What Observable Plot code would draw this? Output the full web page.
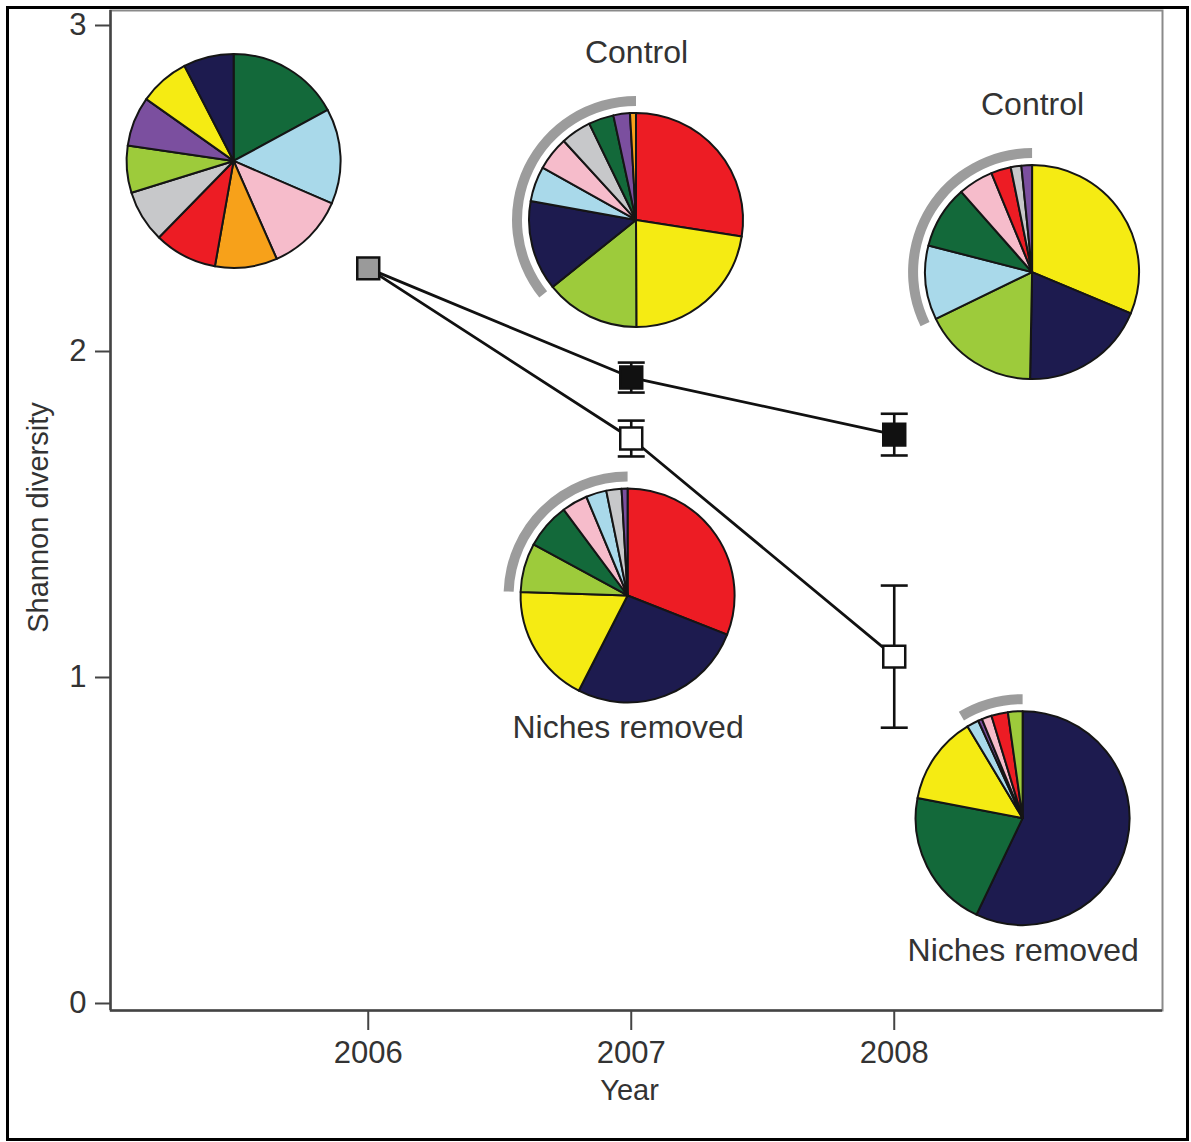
<!DOCTYPE html>
<html><head><meta charset="utf-8">
<script src="https://cdn.jsdelivr.net/npm/d3@7"></script>
<script src="https://cdn.jsdelivr.net/npm/@observablehq/plot@0.6"></script>
<style>
html,body{margin:0;padding:0;background:#fff;}
#wrap{position:relative;width:1191px;height:1142px;overflow:hidden;background:#fff;}
#wrap svg{display:block;position:absolute;left:0;top:0;}
#border{position:absolute;left:6px;top:6px;width:1177px;height:1129px;border:3px solid #000;pointer-events:none;}
</style></head>
<body><div id="wrap"><div id="border"></div></div>
<script>
// ---------- data ----------
const years = [2006, 2007, 2008];
const treatments = ["Control", "Niches removed"];
const startValue = 2.255;              // 2006, before treatment
const controlMean = [1.920, 1.745];    // 2007, 2008
const controlSE   = [0.046, 0.064];
const removedMean = [1.733, 1.064];
const removedSE   = [0.055, 0.218];
const xTicks = [2006, 2007, 2008];
const yTicks = [0, 1, 2, 3];

const speciesKeys = ["dark green", "light blue", "pink", "orange", "red", "grey", "yellow green", "purple", "yellow", "navy"];
const speciesColors = ["#13693a", "#a9d9ea", "#f6bccb", "#f7a11a", "#ed1c24", "#c7c8ca", "#9dcb3b", "#7b4f9f", "#f5eb13", "#1d1b4f"];

// community composition (% of sequences), clockwise from 12 o'clock
const sp2006 = ["dark green", "light blue", "pink", "orange", "red", "grey", "yellow green", "purple", "yellow", "navy"];
const share2006 = [17.1, 14.4, 11.9, 9.4, 9.5, 7.9, 7.1, 7.5, 7.6, 7.6];
const spControl2007 = ["red", "yellow", "yellow green", "navy", "light blue", "pink", "grey", "dark green", "purple", "orange"];
const shareControl2007 = [27.5, 22.5, 14.3, 13.6, 5.3, 5.1, 4.6, 3.8, 2.5, 0.9];
const spControl2008 = ["yellow", "navy", "yellow green", "light blue", "dark green", "pink", "red", "grey", "purple"];
const shareControl2008 = [31.3, 19.0, 17.5, 11.2, 9.5, 5.3, 3.0, 1.6, 1.6];
const spRemoved2007 = ["red", "navy", "yellow", "yellow green", "dark green", "pink", "light blue", "grey", "purple"];
const shareRemoved2007 = [31.0, 26.6, 18.0, 7.4, 6.9, 3.9, 3.1, 2.3, 0.9];
const spRemoved2008 = ["navy", "dark green", "yellow", "light blue", "purple", "pink", "red", "yellow green"];
const shareRemoved2008 = [57.1, 20.9, 13.4, 1.8, 0.6, 1.5, 2.5, 2.2];

// ---------- layout (positions / sizes) ----------
const xDomain = [2005.02, 2009.02];
const yDomain = [-0.0215, 3.046];
const R = 107;
const pieLayout = [
  {pie: "2006", x: 2005.49, y: 2.583, species: sp2006, share: share2006, ringFrom: null, label: null, labelAt: null},
  {pie: "Control 2007", x: 2007.02, y: 2.402, species: spControl2007, share: shareControl2007, ringFrom: 3, label: "Control", labelAt: "above"},
  {pie: "Control 2008", x: 2008.526, y: 2.242, species: spControl2008, share: shareControl2008, ringFrom: 3, label: "Control", labelAt: "above"},
  {pie: "Niches removed 2007", x: 2006.988, y: 1.250, species: spRemoved2007, share: shareRemoved2007, ringFrom: 3, label: "Niches removed", labelAt: "below"},
  {pie: "Niches removed 2008", x: 2008.49, y: 0.567, species: spRemoved2008, share: shareRemoved2008, ringFrom: 3, label: "Niches removed", labelAt: "below"}
];

const sliceRows = pieLayout.flatMap(p => p.species.map((s, k) => ({pie: p.pie, x: p.x, y: p.y, species: s, share: p.share[k]})));

const seriesRows = treatments.flatMap((t, ti) => {
  const means = ti === 0 ? controlMean : removedMean;
  return [{treatment: t, year: years[0], value: startValue}]
    .concat(years.slice(1).map((yr, k) => ({treatment: t, year: yr, value: means[k]})));
});
const errRows = treatments.flatMap((t, ti) => {
  const means = ti === 0 ? controlMean : removedMean;
  const se = ti === 0 ? controlSE : removedSE;
  return years.slice(1).map((yr, k) => ({treatment: t, year: yr, value: means[k], lo: means[k] - se[k], hi: means[k] + se[k]}));
});

const capSymbol = {draw(ctx, size) { const w = Math.sqrt(size / Math.PI); ctx.moveTo(-w, 0); ctx.lineTo(w, 0); }};

function renderPies(index, scales, values) {
  const g = d3.create("svg:g");
  const byPie = d3.group(index, i => sliceRows[i].pie);
  for (const [name, idx] of byPie) {
    const cx = values.x[idx[0]], cy = values.y[idx[0]];
    const arcs = d3.pie().sort(null).value(i => sliceRows[i].share)(idx);
    const layout = pieLayout.find(p => p.pie === name);
    const pg = g.append("g").attr("transform", `translate(${cx},${cy})`);
    if (layout.ringFrom != null) {
      pg.append("path").attr("fill", "#9c9c9c")
        .attr("d", d3.arc()({innerRadius: R + 7, outerRadius: R + 17, startAngle: arcs[layout.ringFrom].startAngle, endAngle: 2 * Math.PI}));
    }
    pg.selectAll("path.slice").data(arcs).join("path").attr("class", "slice")
      .attr("d", d3.arc().innerRadius(0).outerRadius(R))
      .attr("fill", a => values.fill[a.data])
      .attr("stroke", "#151515").attr("stroke-width", 2).attr("stroke-linejoin", "round");
  }
  return g.node();
}

const txt = "#333";
const plot = Plot.plot({
  width: 1191, height: 1142,
  marginLeft: 110, marginRight: 29, marginTop: 10, marginBottom: 132,
  x: {domain: xDomain},
  y: {domain: yDomain},
  color: {domain: speciesKeys, range: speciesColors},
  style: {fontFamily: "'Liberation Sans', Arial, sans-serif", background: "transparent", color: txt, overflow: "visible"},
  marks: [
    Plot.frame({stroke: "#8a8a8a", strokeWidth: 2}),
    Plot.ruleX([xDomain[0]], {stroke: "#444", strokeWidth: 2.5}),
    Plot.ruleY([yDomain[0]], {stroke: "#444", strokeWidth: 2.5}),
    Plot.axisX({ticks: xTicks, tickFormat: d => String(d), tickSize: 20, tickPadding: 10, fontSize: 31, label: null, strokeWidth: 2, stroke: "#444"}),
    Plot.axisY({ticks: yTicks, tickFormat: d => String(d), tickSize: 15, tickPadding: 9, fontSize: 31, label: null, strokeWidth: 2, stroke: "#444"}),
    Plot.text(["Shannon diversity"], {text: d => d, frameAnchor: "left", textAnchor: "middle", lineAnchor: "middle", dx: -72, dy: 7, rotate: -90, fontSize: 29, fill: txt}),
    Plot.text(["Year"], {text: d => d, frameAnchor: "bottom", textAnchor: "middle", lineAnchor: "middle", dx: -7, dy: 80, fontSize: 29, fill: txt}),
    Plot.dot(sliceRows, {x: "x", y: "y", fill: "species", render: renderPies}),
    Plot.text(pieLayout.filter(p => p.labelAt === "above"), {x: "x", y: "y", text: "label", dy: -168, fontSize: 32, fill: txt}),
    Plot.text(pieLayout.filter(p => p.labelAt === "below"), {x: "x", y: "y", text: "label", dy: 132, fontSize: 32, fill: txt}),
    Plot.line(seriesRows, {x: "year", y: "value", z: "treatment", stroke: "#111", strokeWidth: 2.8}),
    Plot.ruleX(errRows, {x: "year", y1: "lo", y2: "hi", stroke: "#111", strokeWidth: 2.6}),
    Plot.dot(errRows, {x: "year", y: "lo", symbol: capSymbol, r: 13.5, fill: "none", stroke: "#111", strokeWidth: 2.6}),
    Plot.dot(errRows, {x: "year", y: "hi", symbol: capSymbol, r: 13.5, fill: "none", stroke: "#111", strokeWidth: 2.6}),
    Plot.dot([{year: years[0], value: startValue}], {x: "year", y: "value", symbol: "square", r: 12.4, fill: "#9a9a9a", stroke: "#111", strokeWidth: 2.5}),
    Plot.dot(errRows.filter(d => d.treatment === "Control"), {x: "year", y: "value", symbol: "square", r: 12.4, fill: "#111", stroke: "#111", strokeWidth: 2.5}),
    Plot.dot(errRows.filter(d => d.treatment === "Niches removed"), {x: "year", y: "value", symbol: "square", r: 12.4, fill: "#fff", stroke: "#111", strokeWidth: 2.5})
  ]
});
document.getElementById("wrap").insertBefore(plot, document.getElementById("border"));
</script>
</body></html>
